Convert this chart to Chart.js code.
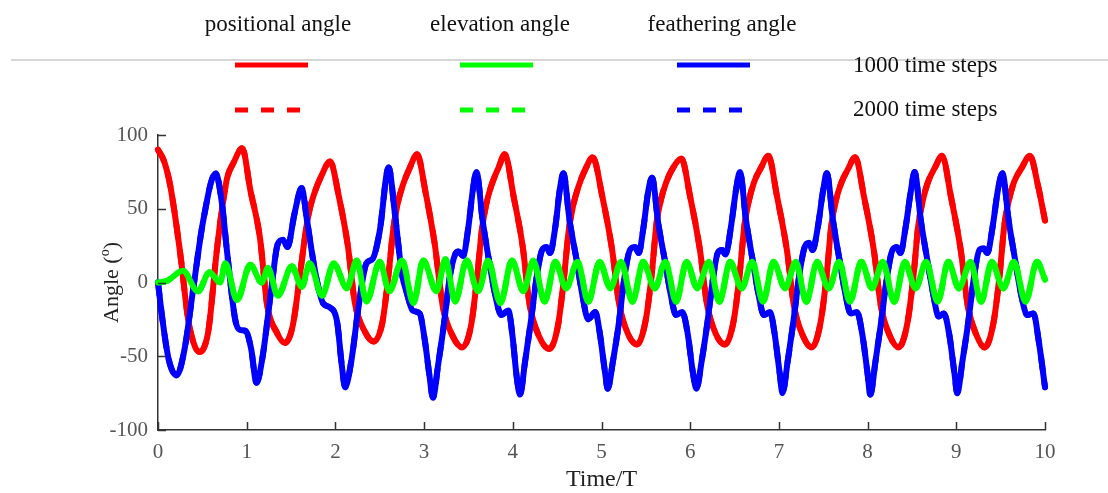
<!DOCTYPE html>
<html>
<head>
<meta charset="utf-8">
<script src="https://cdn.jsdelivr.net/npm/chart.js@4.4.0/dist/chart.umd.min.js"></script>
<style>
  html, body { margin: 0; padding: 0; background: #fff; }
  canvas { display: block; }
</style>
</head>
<body>
<canvas id="angleChart" width="1108" height="493"></canvas>
<script>
// positional angle (red)
const posT = [0, 0.07, 0.14, 0.25, 0.34, 0.42, 0.47, 0.52, 0.57, 0.66, 0.72, 0.78, 0.85, 0.95,
  1.04, 1.15, 1.23, 1.34, 1.43, 1.52, 1.60, 1.65, 1.70, 1.76, 1.84, 1.94,
  2.04, 2.14, 2.22, 2.33, 2.43, 2.53, 2.60, 2.65, 2.70, 2.76, 2.84, 2.92,
  3.02, 3.12, 3.21, 3.32, 3.43, 3.53, 3.60, 3.65, 3.70, 3.76, 3.84, 3.91,
  4.01, 4.11, 4.19, 4.30, 4.41, 4.51, 4.58, 4.63, 4.68, 4.74, 4.82, 4.90,
  5.01, 5.12, 5.20, 5.30, 5.40, 5.50, 5.57, 5.62, 5.67, 5.73, 5.81, 5.90,
  6.00, 6.11, 6.19, 6.29, 6.39, 6.49, 6.56, 6.61, 6.66, 6.72, 6.80, 6.88,
  6.98, 7.09, 7.17, 7.27, 7.37, 7.47, 7.54, 7.59, 7.64, 7.70, 7.78, 7.86,
  7.96, 8.07, 8.15, 8.25, 8.35, 8.45, 8.52, 8.57, 8.62, 8.68, 8.76, 8.84,
  8.94, 9.05, 9.13, 9.23, 9.32, 9.42, 9.49, 9.54, 9.59, 9.65, 9.74, 9.83,
  9.92, 10];
const posAngle = [90, 82, 65, 20, -25, -44, -47, -44, -32, 20, 49, 71, 81, 91,
  63, 30, -15, -34, -41, -29, 5, 28, 47, 60, 72, 82,
  58, 25, -14, -33, -40, -27, 6, 35, 53, 66, 78, 87,
  60, 26, -16, -36, -44, -29, 5, 35, 53, 66, 78, 87,
  58, 25, -15, -37, -45, -29, 5, 35, 52, 65, 77, 85,
  58, 22, -15, -35, -42, -25, 8, 40, 56, 68, 78, 84,
  58, 22, -15, -35, -42, -26, 7, 38, 55, 68, 78, 86,
  58, 22, -16, -36, -44, -27, 6, 38, 55, 67, 77, 85,
  58, 22, -16, -36, -44, -27, 6, 38, 55, 68, 78, 86,
  58, 22, -16, -36, -44, -27, 6, 38, 55, 68, 78, 86,
  66, 42];

// elevation angle (green)
const eleT = [0, 0.10, 0.28, 0.45, 0.58, 0.70, 0.76, 0.89, 1.04, 1.17, 1.24, 1.35, 1.51, 1.62, 1.71, 1.85, 1.98,
  2.13, 2.24, 2.35, 2.50, 2.61, 2.75, 2.88, 2.99, 3.14, 3.24, 3.35, 3.48, 3.61, 3.72, 3.86, 3.99,
  4.12, 4.23, 4.36, 4.48, 4.60, 4.73, 4.85, 4.98, 5.10, 5.22, 5.35, 5.47, 5.60, 5.72, 5.84, 5.96,
  6.08, 6.21, 6.33, 6.45, 6.58, 6.70, 6.82, 6.94, 7.07, 7.19, 7.31, 7.43, 7.56, 7.68, 7.80, 7.93,
  8.05, 8.17, 8.30, 8.42, 8.54, 8.66, 8.79, 8.91, 9.03, 9.16, 9.28, 9.40, 9.53, 9.65, 9.78, 9.91, 10];
const eleAngle = [0, 1, 8, -6, 7, 0, 13, -12, 12, 0, 10, -9, 11, -3, 13, -9, 13,
  -4, 15, -13, 14, -6, 15, -14, 15, -6, 16, -13, 15, -6, 15, -14, 15,
  -6, 15, -13, 14, -4, 14, -13, 14, -4, 14, -13, 14, -4, 14, -13, 14,
  -4, 14, -13, 14, -4, 14, -13, 14, -4, 14, -13, 14, -4, 14, -13, 14,
  -4, 14, -13, 14, -4, 14, -13, 14, -4, 14, -13, 14, -4, 14, -13, 14, 2];

// feathering angle (blue)
const feaT = [0, 0.05, 0.12, 0.21, 0.30, 0.40, 0.51, 0.65, 0.72, 0.78, 0.87, 0.92, 0.99, 1.05, 1.11,
  1.18, 1.28, 1.35, 1.41, 1.46, 1.54, 1.62, 1.68, 1.77, 1.86, 1.94, 2.02, 2.07, 2.11,
  2.18, 2.26, 2.35, 2.42, 2.50, 2.60, 2.67, 2.75, 2.81, 2.87, 2.95, 3.01, 3.06, 3.10,
  3.16, 3.22, 3.29, 3.35, 3.39, 3.44, 3.50, 3.55, 3.59, 3.66, 3.74, 3.80, 3.87, 3.95, 4.00, 4.04, 4.08,
  4.14, 4.20, 4.27, 4.33, 4.38, 4.42, 4.48, 4.53, 4.57, 4.64, 4.72, 4.78, 4.85, 4.93, 4.98, 5.04, 5.07,
  5.13, 5.19, 5.26, 5.32, 5.38, 5.42, 5.47, 5.53, 5.57, 5.64, 5.72, 5.78, 5.84, 5.91, 5.97, 6.03, 6.07,
  6.13, 6.19, 6.26, 6.31, 6.36, 6.40, 6.46, 6.52, 6.56, 6.63, 6.71, 6.77, 6.83, 6.90, 6.95, 7.01, 7.04,
  7.10, 7.16, 7.23, 7.29, 7.34, 7.38, 7.44, 7.50, 7.54, 7.61, 7.69, 7.75, 7.81, 7.88, 7.94, 8.00, 8.03,
  8.09, 8.15, 8.22, 8.28, 8.33, 8.37, 8.43, 8.49, 8.53, 8.60, 8.68, 8.74, 8.80, 8.86, 8.92, 8.98, 9.01,
  9.07, 9.13, 9.20, 9.26, 9.31, 9.35, 9.41, 9.47, 9.52, 9.59, 9.67, 9.73, 9.80, 9.87, 9.93, 10];
const feaAngle = [0, -25, -52, -63, -45, -3, 42, 74, 54, 20, -25, -32, -33, -45, -68,
  -50, -3, 26, 29, 24, 47, 64, 42, 8, -14, -17, -27, -55, -71,
  -53, -17, 13, 16, 35, 78, 47, 6, -8, -19, -21, -40, -63, -78,
  -55, -30, 4, 19, 21, 18, 38, 63, 75, 42, 12, -8, -22, -19, -38, -62, -76,
  -53, -28, 4, 22, 24, 20, 38, 63, 74, 42, 15, -7, -25, -20, -34, -61, -72,
  -53, -30, 4, 22, 24, 20, 36, 63, 71, 40, 13, -8, -22, -20, -34, -61, -72,
  -53, -29, 4, 20, 22, 19, 38, 64, 75, 42, 13, -8, -22, -20, -34, -62, -75,
  -53, -28, 5, 24, 27, 22, 38, 63, 74, 42, 13, -8, -21, -20, -35, -62, -76,
  -53, -28, 4, 22, 24, 20, 38, 63, 75, 42, 13, -8, -23, -21, -35, -62, -75,
  -53, -29, 4, 22, 23, 20, 38, 63, 74, 42, 13, -8, -22, -21, -40, -71];

const seriesNames = ['positional angle', 'elevation angle', 'feathering angle'];
const stepLabels = ['1000 time steps', '2000 time steps'];
const xTicks = [0, 10, 1];
const yTicks = [-100, 100, 50];

const RED = '#ff0000', GREEN = '#00ff00', BLUE = '#0000ff';
const SERIF = '"Liberation Serif", "Times New Roman", serif';

function pts(ts, vs) {
  return ts.map((t, i) => ({ x: t, y: vs[i] }));
}

function lineSet(label, ts, vs, color, dashed, order) {
  return {
    label: label,
    data: pts(ts, vs),
    borderColor: color,
    borderWidth: 6,
    borderDash: dashed ? [13, 13] : [],
    borderCapStyle: 'round',
    borderJoinStyle: 'round',
    pointRadius: 0,
    cubicInterpolationMode: 'monotone',
    fill: false,
    clip: false,
    order: order
  };
}

// legend rows, axis titles and inward tick marks
const decorations = {
  id: 'decorations',
  afterDraw(chart) {
    const ctx = chart.ctx;
    const area = chart.chartArea;
    const xs = chart.scales.x, ys = chart.scales.y;
    ctx.save();

    // inward ticks
    ctx.strokeStyle = '#333';
    ctx.lineWidth = 1.5;
    ctx.beginPath();
    for (let v = xTicks[0]; v <= xTicks[1]; v += xTicks[2]) {
      const px = Math.round(xs.getPixelForValue(v)) + 0.5;
      ctx.moveTo(px, area.bottom);
      ctx.lineTo(px, area.bottom - 8);
    }
    for (let v = yTicks[0]; v <= yTicks[1]; v += yTicks[2]) {
      const py = Math.round(ys.getPixelForValue(v)) + 0.5;
      ctx.moveTo(area.left, py);
      ctx.lineTo(area.left + 8, py);
    }
    ctx.stroke();

    // separator under the legend names
    ctx.strokeStyle = '#c8c8c8';
    ctx.lineWidth = 1.5;
    ctx.beginPath();
    ctx.moveTo(11, 60);
    ctx.lineTo(1108, 60);
    ctx.stroke();

    // legend
    const nameX = [278, 500, 722];
    const lineX = [235, 460, 677];
    const colors = [RED, GREEN, BLUE];
    ctx.fillStyle = '#111';
    ctx.font = '23px ' + SERIF;
    ctx.textBaseline = 'middle';
    ctx.textAlign = 'center';
    seriesNames.forEach((n, i) => ctx.fillText(n, nameX[i], 25));
    ctx.textAlign = 'left';
    ctx.fillText(stepLabels[0], 853, 66);
    ctx.fillText(stepLabels[1], 853, 110);
    ctx.lineWidth = 5;
    ctx.lineCap = 'butt';
    colors.forEach((c, i) => {
      ctx.strokeStyle = c;
      ctx.setLineDash([]);
      ctx.beginPath();
      ctx.moveTo(lineX[i], 65);
      ctx.lineTo(lineX[i] + 73, 65);
      ctx.stroke();
      ctx.setLineDash([13, 13]);
      ctx.beginPath();
      ctx.moveTo(lineX[i], 110);
      ctx.lineTo(lineX[i] + 65, 110);
      ctx.stroke();
    });
    ctx.setLineDash([]);

    // x title
    ctx.fillStyle = '#222';
    ctx.font = '24px ' + SERIF;
    ctx.textAlign = 'center';
    ctx.fillText('Time/T', (area.left + area.right) / 2, 480);

    // y title with superscript
    ctx.translate(112, (area.top + area.bottom) / 2);
    ctx.rotate(-Math.PI / 2);
    const big = '22px ' + SERIF, small = '14px ' + SERIF;
    ctx.font = big;
    const w1 = ctx.measureText('Angle (').width;
    const w3 = ctx.measureText(')').width;
    ctx.font = small;
    const w2 = ctx.measureText('o').width;
    let x0 = -(w1 + w2 + w3) / 2;
    ctx.textAlign = 'left';
    ctx.font = big;
    ctx.fillText('Angle (', x0, 0);
    ctx.font = small;
    ctx.fillText('o', x0 + w1, -7);
    ctx.font = big;
    ctx.fillText(')', x0 + w1 + w2, 0);
    ctx.restore();
  }
};

const tickFont = { family: SERIF, size: 21 };

new Chart(document.getElementById('angleChart').getContext('2d'), {
  type: 'line',
  data: {
    datasets: [
      lineSet(seriesNames[1] + ', ' + stepLabels[0], eleT, eleAngle, GREEN, false, 1),
      lineSet(seriesNames[2] + ', ' + stepLabels[0], feaT, feaAngle, BLUE, false, 2),
      lineSet(seriesNames[0] + ', ' + stepLabels[0], posT, posAngle, RED, false, 3),
      lineSet(seriesNames[1] + ', ' + stepLabels[1], eleT, eleAngle, GREEN, true, 4),
      lineSet(seriesNames[2] + ', ' + stepLabels[1], feaT, feaAngle, BLUE, true, 5),
      lineSet(seriesNames[0] + ', ' + stepLabels[1], posT, posAngle, RED, true, 6)
    ]
  },
  options: {
    responsive: false,
    animation: false,
    layout: { padding: { top: 135, right: 63, left: 0, bottom: 0 } },
    plugins: {
      legend: { display: false },
      tooltip: { enabled: false }
    },
    scales: {
      x: {
        type: 'linear',
        min: xTicks[0],
        max: xTicks[1],
        ticks: { stepSize: xTicks[2], font: tickFont, color: '#555', padding: 10, maxRotation: 0 },
        grid: { drawOnChartArea: false, drawTicks: false },
        border: { color: '#333', width: 1.5 },
        afterFit: s => { s.height = 63; }
      },
      y: {
        min: yTicks[0],
        max: yTicks[1],
        ticks: { stepSize: yTicks[2], font: tickFont, color: '#555', padding: 10 },
        grid: { drawOnChartArea: false, drawTicks: false },
        border: { color: '#333', width: 1.5 },
        afterFit: s => { s.width = 158; }
      }
    }
  },
  plugins: [decorations]
});
</script>
</body>
</html>
